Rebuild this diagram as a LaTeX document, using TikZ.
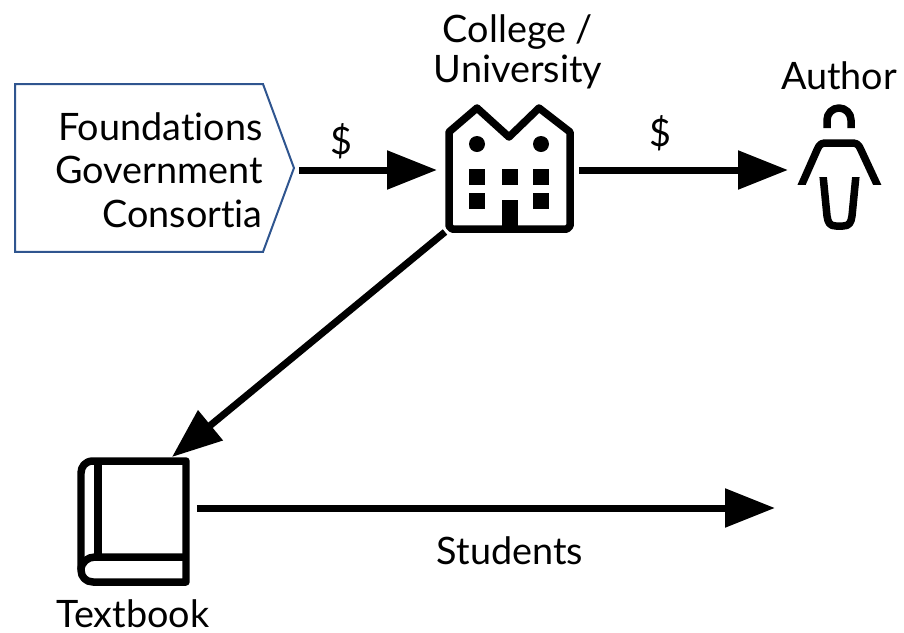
\documentclass[tikz,border=0pt]{standalone}
\usepackage{fontspec}
\setmainfont{Lato}[Ligatures={NoCommon,NoRare}]
\usetikzlibrary{arrows.meta, shapes.symbols}
\tikzset{
label/.style={font=\fontsize{21.5}{23}\selectfont, align=center, inner sep=0pt},
iconbox/.style={inner sep=0pt, outer sep=0pt},
flow/.style={line width=0.14cm, -{Triangle[length=1cm,width=0.75cm]}},
icon/.style={line width=0.15cm, line join=round},
}
\begin{document}
\begin{tikzpicture}[x=0.02cm,y=-0.02cm]
\useasboundingbox (0,0) rectangle (904,633);
\node[draw={rgb,255:red,47;green,85;blue,143}, line width=0.04cm, shape=signal, signal to=east, signal pointer angle=139.5, minimum width=5.58cm, minimum height=3.36cm, inner sep=0pt, outer sep=0pt] (funders) at (139,168){};
\node[label, align=right, anchor=east, font=\fontsize{21.5}{24.8}\selectfont] (fundnames) at (263,170){Foundations\\Government\\Consortia};
\node[iconbox, minimum width=2.58cm, minimum height=2.48cm] (college) at (509.5,170){};
\node[iconbox, minimum width=1.6cm, minimum height=2.48cm] (author) at (840,170){};
\node[iconbox, minimum width=2.22cm, minimum height=2.56cm] (book) at (133.5,521){};
\coordinate (readers) at (775,508);

\node[label] (collegename) at (518,52){College /\\University};\node[label] (authorname) at (839,76){Author};\node[label] (bookname) at (133,614){Textbook};\node[label] (readername) at (510,551){Students};
\node[label] (pay) at (341,141){\$};\node[label] (royalty) at (660,133){\$};

\draw[icon, miter limit=10] (449,226)--(449,132)--(477,108)--(509,137)--(539,108)--(570,132)--(570,226)--(567,229)--(452,229)--cycle;
\fill (477,144) circle (8);\fill (541,144) circle (8);
\fill (469,169) rectangle (485,185);\fill (502,169) rectangle (518,185);\fill (533,169) rectangle (549,185);
\fill (469,193) rectangle (485,209);\fill (533,193) rectangle (549,209);\fill (502,200) rectangle (518,229);

\draw[icon] (827,128)--(827,120) arc (180:360:12) --(851,128);
\begin{scope}
\clip (790,130) rectangle (890,184);
\draw[icon] (798,193)--(817,150) .. controls (820,143) and (822,143) .. (828,143)--(850,143) .. controls (856,143) and (858,143) .. (861,150)--(881,193);
\end{scope}
\begin{scope}
\clip (810,177) rectangle (870,240);
\draw[icon] (822,165)--(827,216) .. controls (828,223) and (830,226) .. (836,226)--(843,226) .. controls (849,226) and (851,223) .. (852,216)--(857,165);
\end{scope}

\draw[icon] (186,461)--(93,461) .. controls (85,461) and (81,467) .. (81,473)--(81,570) .. controls (81,577) and (86,582) .. (93,582)--(186,582)--cycle;
\draw[icon] (98,461)--(98,557);\draw[icon] (186,557)--(95,557) .. controls (88,557) and (81,562) .. (81,570);

\draw[flow, shorten <=3, shorten >=0.16cm] (funders.east |- college.west)--(college.west);
\draw[flow, shorten <=3, shorten >=0.24cm] (college.east)--(author.west);
\draw[flow] (college.south west)--(book.59);
\draw[flow, shorten <=0.16cm] (book.east |- readers)--(readers);
\end{tikzpicture}
\end{document}
